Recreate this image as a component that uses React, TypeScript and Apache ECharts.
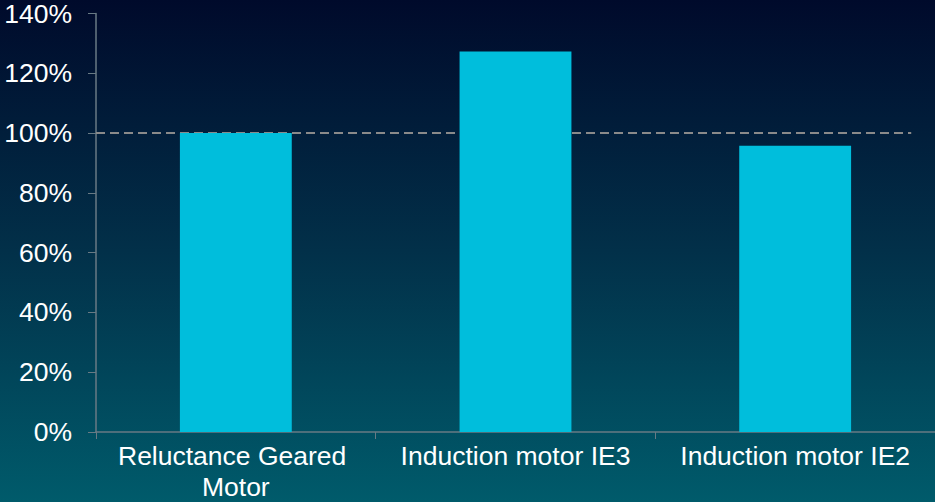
import React, { useEffect, useRef } from "react";
import * as echarts from "echarts";

const categories = ["Reluctance Geared Motor", "Induction motor IE3", "Induction motor IE2"];
const values = [100, 127.3, 95.8];
const yTicks = { min: 0, max: 140, interval: 20 };
const refLineValue = 100;
const refLineSpan = [-0.5, 2.415];

export default function App() {
  const ref = useRef<HTMLDivElement>(null);
  useEffect(() => {
    if (!ref.current) return;
    const chart = echarts.init(ref.current, null, { renderer: "svg" });
    const font = "'Liberation Sans', Arial, sans-serif";
    chart.setOption({
      animation: false,
      backgroundColor: new echarts.graphic.LinearGradient(0, 0, 0, 1, [
        { offset: 0, color: "#000a2b" },
        { offset: 0.5, color: "#023049" },
        { offset: 1, color: "#005b6b" },
      ]),
      grid: { left: 96, right: 0, top: 13, bottom: 70, containLabel: false },
      xAxis: [
        {
          type: "category",
          data: categories,
          axisLine: { lineStyle: { color: "#687a84", width: 1.5 } },
          axisTick: { show: true, length: 7, lineStyle: { color: "#687a84" } },
          axisLabel: {
            color: "#ffffff",
            fontSize: 26.5,
            fontFamily: font,
            margin: 8,
            lineHeight: 31,
            width: 270,
            overflow: "break",
            interval: 0,
          },
        },
        { type: "value", min: -0.5, max: 2.5, show: false },
      ],
      yAxis: {
        type: "value",
        min: yTicks.min,
        max: yTicks.max,
        interval: yTicks.interval,
        axisLine: { show: true, onZero: false, lineStyle: { color: "#687a84", width: 1.5 } },
        axisTick: { show: true, length: 8, lineStyle: { color: "#687a84" } },
        splitLine: { show: false },
        axisLabel: {
          color: "#ffffff",
          fontSize: 26.5,
          fontFamily: font,
          margin: 24,
          formatter: "{value}%",
        },
      },
      series: [
        {
          type: "bar",
          data: values,
          barWidth: "40%",
          itemStyle: { color: "#00bedc" },
          z: 3,
        },
        {
          type: "line",
          xAxisIndex: 1,
          data: refLineSpan.map((x) => [x, refLineValue]),
          symbol: "none",
          lineStyle: { color: "#8a8a8a", width: 2, type: [9, 5] },
          z: 2,
        },
      ],
    });
    return () => chart.dispose();
  }, []);
  return (
    <div
      ref={ref}
      style={{ position: "fixed", left: 0, top: 0, width: 935, height: 502 }}
    />
  );
}
